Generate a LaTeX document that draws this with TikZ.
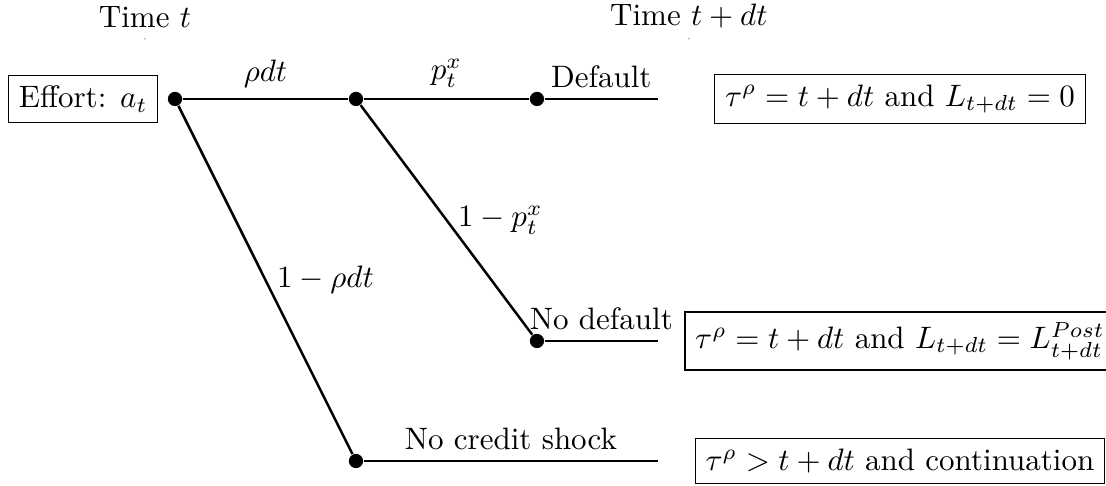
\documentclass[tikz,border=0pt]{standalone}
\usepackage{amsmath,amssymb}
\usepackage{tikz}
\usetikzlibrary{positioning}

\begin{document}
\begin{tikzpicture}[
  dot/.style={circle, fill=black, inner sep=0pt, minimum size=4.6pt},
  outcome/.style={draw, rectangle},
  branch/.style={thick}
]
\useasboundingbox (0,0) rectangle (12.54,5.51);

% Time markers
\coordinate (tnow) at (1.644,5.07);
\coordinate (tnext) at (7.81,5.07);
\node[above] (lnow) at (tnow) {Time $t$};
\node[above] (lnext) at (tnext) {Time $t+dt$};
\fill[gray] (tnow) circle (0.25pt);
\fill[gray] (tnext) circle (0.25pt);

% Tree nodes (credit shock, then default)
\node[dot] (root) at (1.984,4.388) {};
\node[dot] (shock) at (4.036,4.388) {};
\node[dot] (dflt) at (6.088,4.388) {};
\node[dot] (nodflt) at (6.088,1.644) {};
\node[dot] (noshock) at (4.036,0.283) {};
\coordinate (dfltend) at (7.46,4.388);
\coordinate (nodfltend) at (7.46,1.644);
\coordinate (noshockend) at (7.46,0.283);

\node[outcome, left=0.1cm of root] (effort) {Effort: $a_t$};

% Branches with probabilities
\draw[branch] (root) -- node[above] {$\rho dt$} (shock);
\draw[branch] (shock) -- node[above] {$p_t^x$} (dflt);
\draw[branch] (dflt) -- node[above] {Default} (dfltend);
\draw[branch] (shock) -- node[right] {$1-p_t^x$} (nodflt);
\draw[branch] (nodflt) -- node[above] {No default} (nodfltend);
\draw[branch] (root) -- node[right] {$1-\rho dt$} (noshock);
\draw[branch] (noshock) -- node[above] {No credit shock} (noshockend);

% Outcomes
\coordinate (outx) at (10.204,0);
\node[outcome] (out1) at (dfltend -| outx) {$\tau^\rho = t+dt$ and $L_{t+dt} = 0$};
\node[outcome] (out2) at (nodfltend -| outx) {$\tau^\rho = t+dt$ and $L_{t+dt} = L_{t+dt}^{Post}$};
\node[outcome] (out3) at (noshockend -| outx) {$\tau^\rho > t+dt$ and continuation};

\end{tikzpicture}
\end{document}
